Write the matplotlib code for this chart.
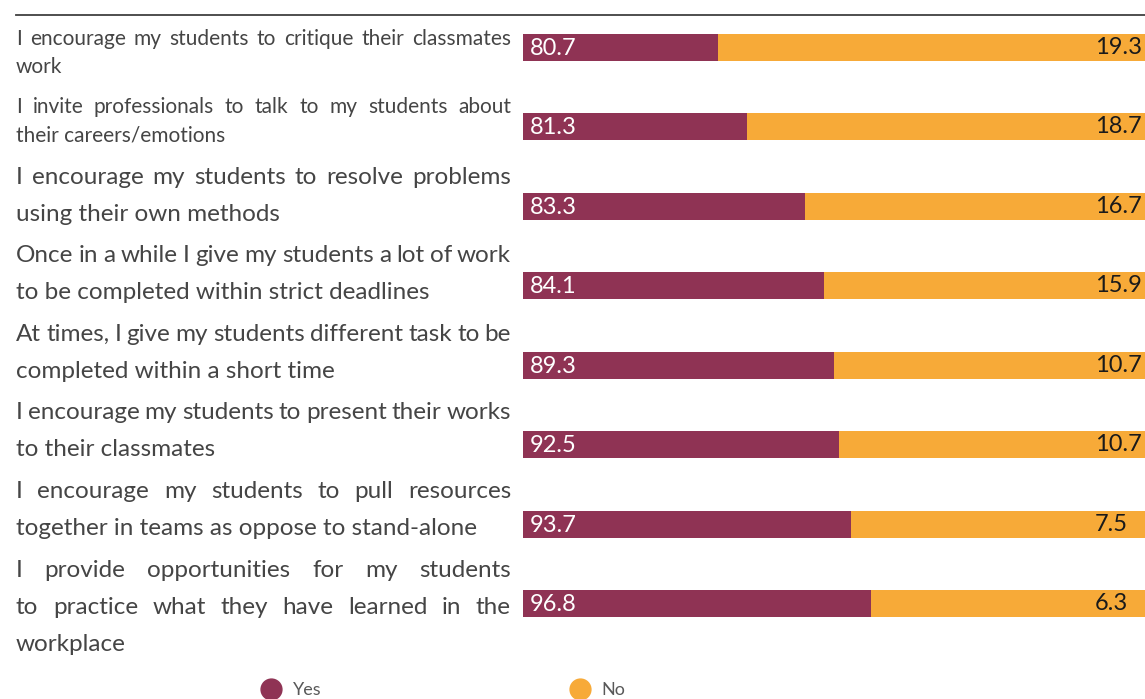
import matplotlib
matplotlib.use("Agg")
import matplotlib.pyplot as plt
from matplotlib.lines import Line2D
import numpy as np

plt.rcParams['font.family'] = ['Lato', 'DejaVu Sans']

# ---- data ----
statements = [
    ["I encourage my students to critique their classmates", "work"],
    ["I invite professionals to talk to my students about", "their careers/emotions"],
    ["I encourage my students to resolve problems", "using their own methods"],
    ["Once in a while I give my students a lot of work", "to be completed within strict deadlines"],
    ["At times, I give my students different task to be", "completed within a short time"],
    ["I encourage my students to present their works", "to their classmates"],
    ["I encourage my students to pull resources", "together in teams as oppose to stand-alone"],
    ["I provide opportunities for my students",
     "to practice what they have learned in the", "workplace"],
]
yes_pct = [80.7, 81.3, 83.3, 84.1, 89.3, 92.5, 93.7, 96.8]
no_pct = [19.3, 18.7, 16.7, 15.9, 10.7, 10.7, 7.5, 6.3]
# length of the Yes segment as drawn in the picture (share of the visible bar)
yes_bar = [31.4, 36.0, 45.3, 48.4, 50.0, 50.8, 52.7, 55.9]
series = ["Yes", "No"]

# ---- style / layout ----
YES_C = "#8F3354"
NO_C = "#F7AA38"
TXT_C = "#454545"
W, H = 1145, 699
X0, X1 = 16, 511          # text column in pixels
first_base = [45, 113, 184, 262, 341, 419, 498, 577]   # baseline of first line
line_gap = [28, 28, 37, 37, 37, 37, 37, 37]
txt_size = [15, 15, 17.5, 17.5, 17.5, 17.5, 17.5, 17.5]

fig = plt.figure(figsize=(W / 100, H / 100), dpi=100)
renderer = fig.canvas.get_renderer()

# ---- bars ----
ax = fig.add_axes([523 / W, 0, 622 / W, 1])
rows = np.arange(len(yes_pct))
yes_bar = np.array(yes_bar)
ax.barh(rows, yes_bar, height=0.34, color=YES_C, lw=0)
ax.barh(rows, 100 - yes_bar, left=yes_bar, height=0.34, color=NO_C, lw=0)
ax.set_xlim(0, 100)
step = (603.5 - 47.5) / 7
ax.set_ylim((H - 47.5) / step, -47.5 / step)
ax.axis('off')

for i in rows:
    ax.annotate(f"{yes_pct[i]:.1f}", (0, i), xytext=(7, -1), textcoords='offset pixels',
                ha='left', va='center', color='white', fontsize=17)
    ax.text(92.0, i, f"{no_pct[i]:.1f}", ha='left', va='center',
            color='#1a1a1a', fontsize=17, clip_on=False)


# ---- justified left text ----
def put_line(text, y, size, justify):
    if not justify:
        fig.text(X0 / W, 1 - y / H, text, fontsize=size, color=TXT_C, va='baseline')
        return
    words = text.split(" ")
    arts = [fig.text(0, 1 - y / H, w, fontsize=size, color=TXT_C, va='baseline')
            for w in words]
    widths = [a.get_window_extent(renderer).width for a in arts]
    gap = max((X1 - X0 - sum(widths)) / (len(words) - 1), size * 0.25)
    x = X0
    for a, w in zip(arts, widths):
        a.set_x(x / W)
        x += w + gap


for k, lines in enumerate(statements):
    for j, line in enumerate(lines):
        put_line(line, first_base[k] + j * line_gap[k], txt_size[k], j < len(lines) - 1)

# top rule
fig.add_artist(Line2D([16 / W, 1], [1 - 15 / H, 1 - 15 / H], color='#404040', lw=1.3))

# legend
handles = [Line2D([], [], marker='o', ls='', ms=15, color=c) for c in (YES_C, NO_C)]
fig.legend(handles, series, loc='center left', bbox_to_anchor=(262 / W, 1 - 690 / H),
           ncol=2, frameon=False, fontsize=13, labelcolor='#595959',
           handlelength=1, handletextpad=0.7, columnspacing=13.8,
           borderpad=0, borderaxespad=0)

fig.savefig("out.png", dpi=100)
